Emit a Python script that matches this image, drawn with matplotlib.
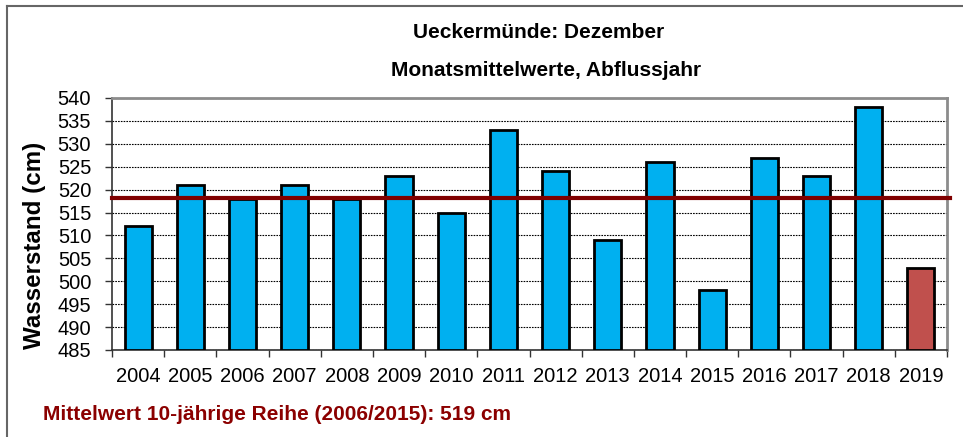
import numpy as np
import matplotlib
matplotlib.use('Agg')
import matplotlib.pyplot as plt
from matplotlib.lines import Line2D

plt.rcParams['font.family'] = ['Liberation Sans', 'DejaVu Sans']

# data
years = ['2004', '2005', '2006', '2007', '2008', '2009', '2010', '2011',
         '2012', '2013', '2014', '2015', '2016', '2017', '2018', '2019']
wasserstand = [512, 521, 518, 521, 518, 523, 515, 533,
               524, 509, 526, 498, 527, 523, 538, 503]
mittelwert = 518.2
y_ticks = list(range(485, 541, 5))

bar_colors = ['#00B0F0'] * (len(years) - 1) + ['#C0504D']

fig = plt.figure(figsize=(9.63, 4.37), dpi=100)
ax = fig.add_axes([112 / 963, 1 - 350 / 437, (947 - 112) / 963, (350 - 98) / 437])

x = np.arange(len(years))
ax.bar(x, [v - 485 for v in wasserstand], bottom=485, width=0.52,
       color=bar_colors, edgecolor='black', linewidth=2, zorder=3)

# mean line, slightly overhanging the right edge
ax.plot([-0.5, len(years) - 0.45], [mittelwert, mittelwert], color='#800000',
        linewidth=3, zorder=4, clip_on=False)

ax.set_xlim(-0.5, len(years) - 0.5)
ax.set_ylim(485, 540)
ax.set_yticks(y_ticks)
ax.set_yticklabels([str(t) for t in y_ticks], fontsize=14.5)
ax.set_xticks(x)
ax.set_xticklabels(years, fontsize=14.5)
ax.tick_params(axis='x', which='major', length=0, pad=12)
ax.set_xticks(np.arange(-0.5, len(years), 1), minor=True)
ax.tick_params(axis='x', which='minor', length=5, width=1, color='#333333', direction='out')
ax.tick_params(axis='y', length=5, width=1, color='#333333', pad=10)

ax.grid(axis='y', linestyle=(0, (1.5, 1)), color='black', linewidth=0.8, zorder=1)
for s in ['top', 'right']:
    ax.spines[s].set_color('#8c8c8c')
    ax.spines[s].set_linewidth(2)
for s in ['left', 'bottom']:
    ax.spines[s].set_color('#333333')
    ax.spines[s].set_linewidth(1.2)

fig.text(35 / 963, 1 - 245 / 437, 'Wasserstand (cm)', rotation=90, ha='center', va='center',
         fontsize=17.4, fontweight='bold')

fig.text(539 / 963, 1 - 32 / 437, 'Ueckermünde: Dezember', ha='center', va='center',
         fontsize=15, fontweight='bold')
fig.text(546 / 963, 1 - 71 / 437, 'Monatsmittelwerte, Abflussjahr', ha='center', va='center',
         fontsize=15, fontweight='bold')
fig.text(43 / 963, 1 - 415 / 437, 'Mittelwert 10-jährige Reihe (2006/2015): 519 cm',
         ha='left', va='center', fontsize=15, fontweight='bold', color='#8B0000')

# outer frame (only top and left visible)
fig.add_artist(Line2D([7 / 963, 7 / 963], [0, 1 - 6 / 437], transform=fig.transFigure,
                      color='#666666', linewidth=1.5))
fig.add_artist(Line2D([7 / 963, 1], [1 - 6 / 437, 1 - 6 / 437], transform=fig.transFigure,
                      color='#666666', linewidth=1.5))

fig.savefig('out.png', dpi=100)
